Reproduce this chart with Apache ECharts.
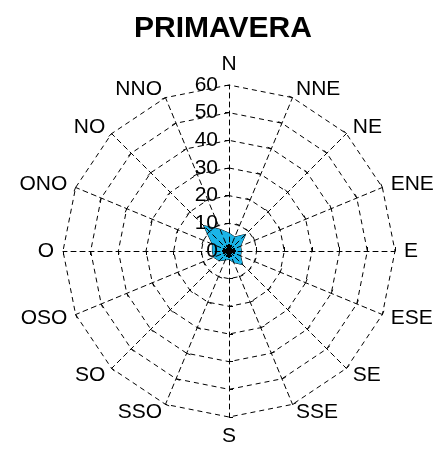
<!DOCTYPE html>
<html>
<head>
<meta charset="utf-8">
<script src="https://cdn.jsdelivr.net/npm/echarts@6/dist/echarts.min.js"></script>
<style>
html, body { margin: 0; padding: 0; background: #fff; }
#rosa { width: 446px; height: 450px; }
</style>
</head>
<body>
<div id="rosa"></div>
<script>
// direcciones en sentido horario desde el norte
var direcciones = ['N', 'NNE', 'NE', 'ENE', 'E', 'ESE', 'SE', 'SSE',
                   'S', 'SSO', 'SO', 'OSO', 'O', 'ONO', 'NO', 'NNO'];
// frecuencias (%) primavera
var frecuencias = [6.5, 5.5, 8.5, 4.5, 4.5, 4.5, 7, 4.5,
                   3, 3.5, 5, 6, 6, 6.5, 13, 8.5];
var calmas = [0, 0, 0, 0, 0, 0, 0, 0, 0, 0, 0, 0, 0, 0, 0, 0];
var maxRadio = 60;

var fuente = 'Liberation Sans, Arial, sans-serif';

// el radar va en sentido antihorario: N primero y luego el resto al reves
function antihorario(arr) {
    return [arr[0]].concat(arr.slice(1).reverse());
}

var indicadores = antihorario(direcciones).map(function (d, i) {
    var ind = { name: d, max: maxRadio, min: 0 };
    if (i == 0) {
        ind.axisLabel = { show: true };
    }
    return ind;
});

// estrella de calmas
var estrella = 'path://M0,-10L0,10M-10,0L10,0M-7.07,-7.07L7.07,7.07M-7.07,7.07L7.07,-7.07' +
    'M-3.83,-9.24L3.83,9.24M3.83,-9.24L-3.83,9.24M-9.24,-3.83L9.24,3.83M9.24,-3.83L-9.24,3.83';

var chart = echarts.init(document.getElementById('rosa'));
var option = {
    backgroundColor: '#fff',
    animation: false,
    title: {
        text: 'PRIMAVERA',
        left: 'center',
        top: 9,
        textStyle: {
            fontFamily: fuente,
            fontSize: 30,
            fontWeight: 'bold',
            color: '#000'
        }
    },
    radar: {
        z: 3,
        center: [229, 251],
        radius: 166,
        startAngle: 90,
        splitNumber: 6,
        shape: 'polygon',
        indicator: indicadores,
        axisName: {
            color: '#000',
            fontFamily: fuente,
            fontSize: 21
        },
        nameGap: 9,
        axisLine: {
            lineStyle: { color: '#000', type: [5, 4], width: 1 }
        },
        axisTick: {
            show: true,
            length: 4,
            lineStyle: { color: '#000', width: 1 }
        },
        axisLabel: {
            show: false,
            color: '#000',
            fontFamily: fuente,
            fontSize: 21,
            margin: 11
        },
        splitLine: {
            lineStyle: { color: '#000', type: [5, 4], width: 1 }
        },
        splitArea: { show: false }
    },
    series: [
        {
            type: 'radar',
            z: 2,
            symbol: 'none',
            lineStyle: { color: '#000', width: 1 },
            areaStyle: { color: '#1AB4E8', opacity: 1 },
            data: [{ value: antihorario(frecuencias) }]
        },
        {
            type: 'radar',
            z: 4,
            symbol: estrella,
            symbolSize: 13,
            lineStyle: { width: 0 },
            itemStyle: { color: '#000', borderColor: '#000', borderWidth: 1 },
            data: [{ value: antihorario(calmas) }]
        }
    ]
};
chart.setOption(option);
</script>
</body>
</html>
